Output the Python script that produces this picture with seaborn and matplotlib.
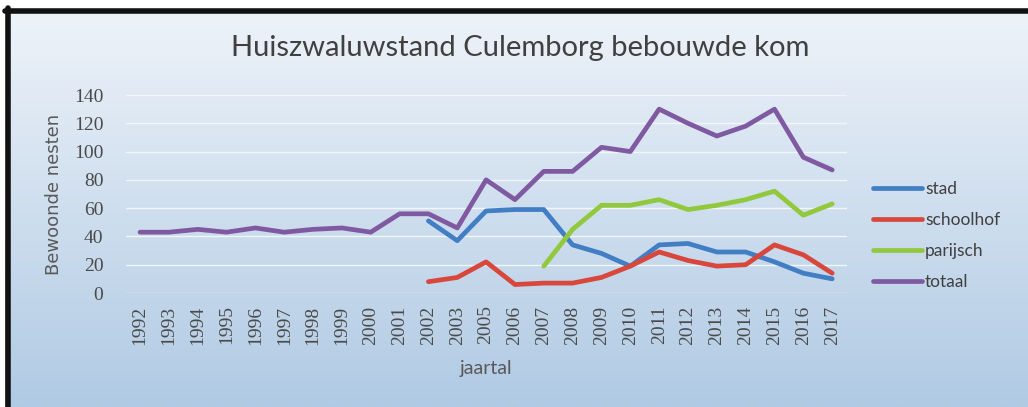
import numpy as np
import pandas as pd
import matplotlib
matplotlib.use("Agg")
import matplotlib.pyplot as plt
from matplotlib.lines import Line2D
import seaborn as sns

# data (2004 is missing on the original axis)
jaren = ["1992", "1993", "1994", "1995", "1996", "1997", "1998", "1999", "2000",
         "2001", "2002", "2003", "2005", "2006", "2007", "2008", "2009", "2010",
         "2011", "2012", "2013", "2014", "2015", "2016", "2017"]
nan = np.nan
stad = [nan] * 10 + [51, 37, 58, 59, 59, 34, 28, 19, 34, 35, 29, 29, 22, 14, 10]
schoolhof = [nan] * 10 + [8, 11, 22, 6, 7, 7, 11, 19, 29, 23, 19, 20, 34, 27, 14]
parijsch = [nan] * 14 + [19, 45, 62, 62, 66, 59, 62, 66, 72, 55, 63]
totaal = [43, 43, 45, 43, 46, 43, 45, 46, 43, 56, 56, 46, 80, 66, 86, 86, 103,
          100, 130, 120, 111, 118, 130, 96, 87]
reeksen = ["stad", "schoolhof", "parijsch", "totaal"]
kleuren = ["#427ec4", "#d8463c", "#92c83c", "#7f5aa0"]

frames = []
for naam, waarden in zip(reeksen, [stad, schoolhof, parijsch, totaal]):
    frames.append(pd.DataFrame({"pos": range(len(jaren)), "nesten": waarden, "reeks": naam}))
df = pd.concat(frames).dropna()

sns.set_style("white")
plt.rcParams["font.family"] = ["Lato", "DejaVu Sans"]

fig = plt.figure(figsize=(10.28, 4.07), dpi=100)
fig.patch.set_facecolor("white")

# gradient background
bg = fig.add_axes([5 / 1028, 0, 1 - 5 / 1028, 1 - 10 / 407], zorder=0)
top = np.array([238, 243, 249]) / 255
bot = np.array([176, 202, 228]) / 255
t = np.linspace(0, 1, 256)[:, None]
grad = top[None, :] * (1 - t) + bot[None, :] * t
bg.imshow(grad[:, None, :], aspect="auto", extent=[0, 1, 0, 1])
bg.set_axis_off()

# black frame top and left
fig.add_artist(Line2D([5 / 1028, 1], [1 - 10.5 / 407] * 2, color="#111111", lw=4, transform=fig.transFigure))
fig.add_artist(Line2D([7.5 / 1028] * 2, [0, 1 - 8 / 407], color="#111111", lw=4, transform=fig.transFigure))

ax = fig.add_axes([125.6 / 1028, 1 - 293 / 407, 721 / 1028, 198 / 407], zorder=2)
ax.set_facecolor("none")
sns.lineplot(data=df, x="pos", y="nesten", hue="reeks", hue_order=reeksen,
             palette=kleuren, linewidth=3.4, ax=ax, sort=False)

ax.set_xlim(-0.5, len(jaren) - 0.5)
ax.set_ylim(0, 140)
ax.set_yticks(range(0, 141, 20))
ax.set_xticks(range(len(jaren)))
ax.set_xticklabels(jaren, rotation=90, family="Liberation Serif", fontsize=14, color="#4a4a4a")
for lab in ax.get_yticklabels():
    lab.set_family("Liberation Serif")
    lab.set_fontsize(14)
    lab.set_color("#4a4a4a")
ax.tick_params(length=0)
ax.tick_params(axis="y", pad=16)
ax.tick_params(axis="x", pad=9)
for s in ax.spines.values():
    s.set_visible(False)
ax.yaxis.grid(True, color="#f2f6fb", linewidth=1)
ax.set_axisbelow(True)

ax.set_xlabel("jaartal", fontsize=14, color="#595959", labelpad=11)
ax.set_ylabel("Bewoonde nesten", family="DejaVu Sans", fontsize=13, color="#595959", labelpad=8)

fig.text(520 / 1028, 1 - 48 / 407, "Huiszwaluwstand Culemborg bebouwde kom",
         ha="center", va="center", fontsize=21, color="#404040")

ax.legend(loc="center left", bbox_to_anchor=(873 / 1028, 1 - 235.5 / 407),
          bbox_transform=fig.transFigure, frameon=False, borderpad=0,
          borderaxespad=0, handlelength=2.8, handletextpad=0.2,
          labelspacing=0.85, fontsize=12.5, labelcolor="#404040")

fig.savefig("out.png", dpi=100)
